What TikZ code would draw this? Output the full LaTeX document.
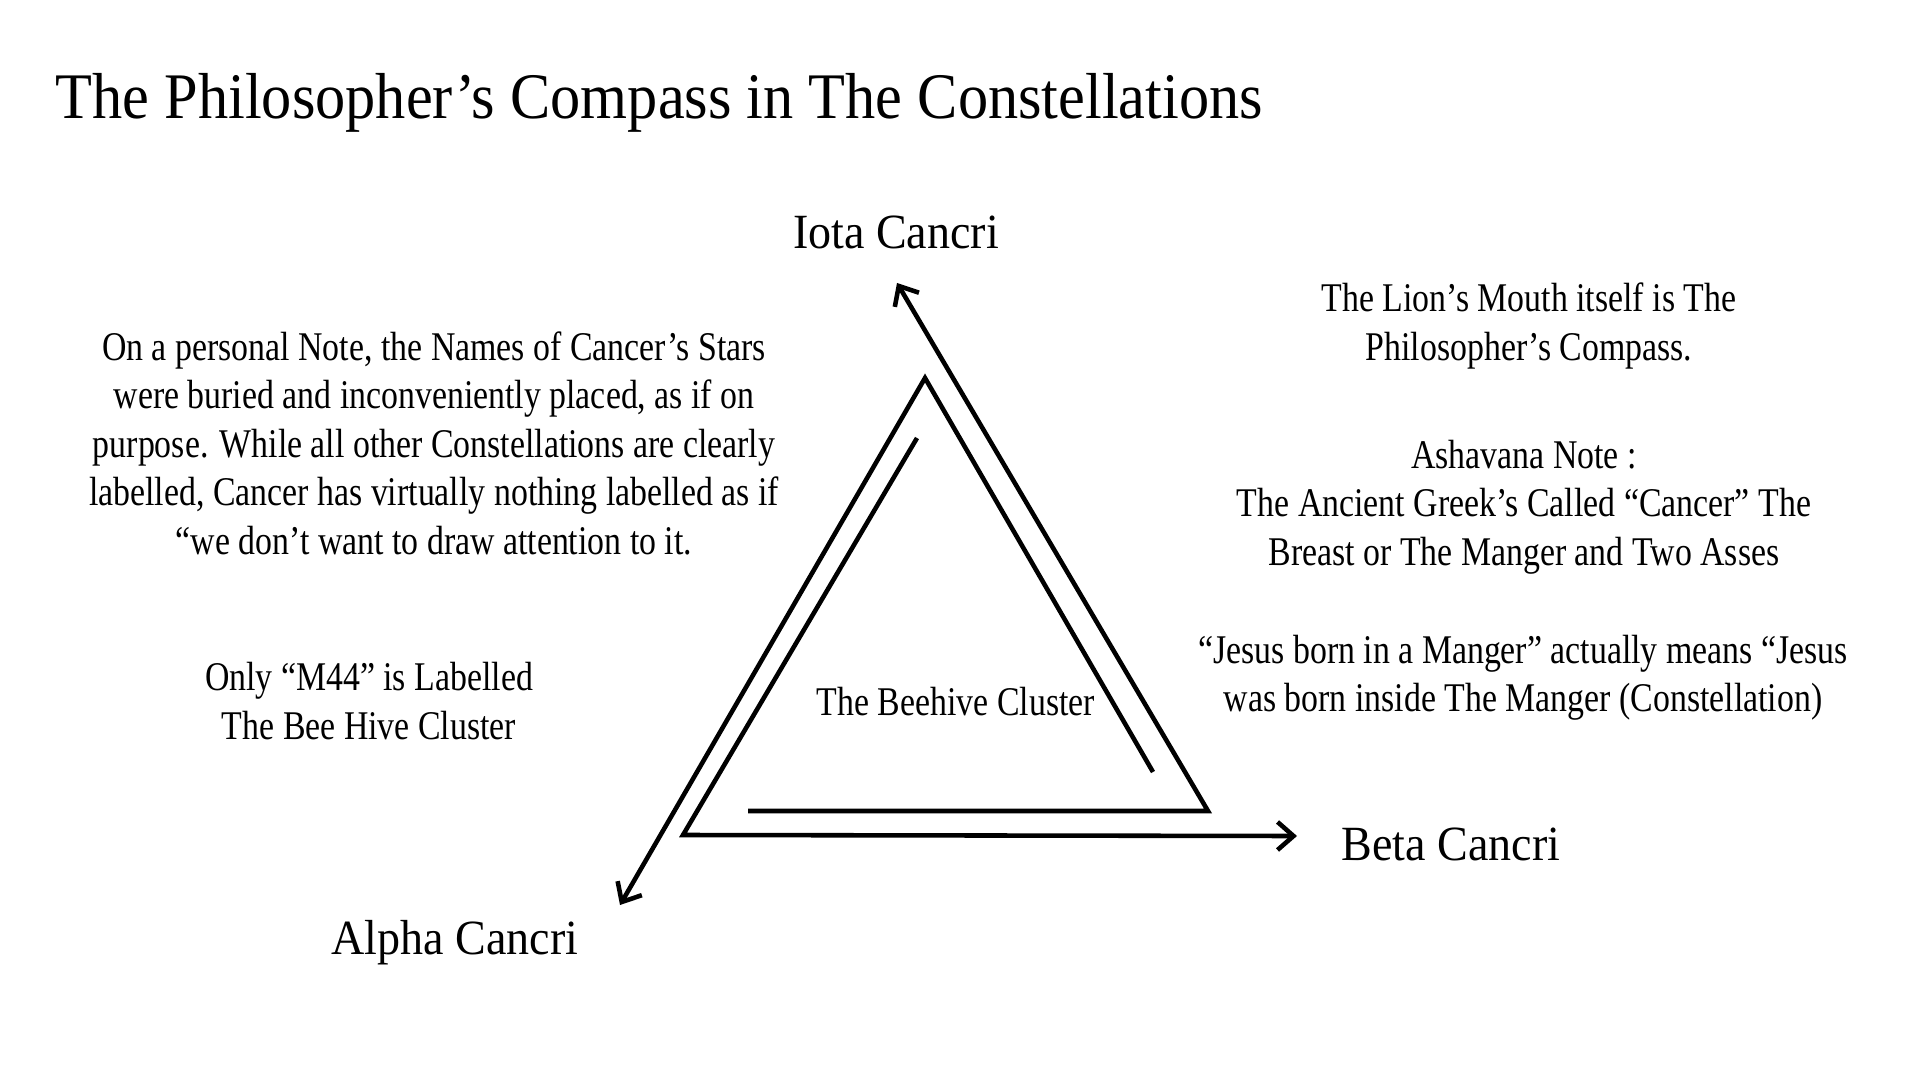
\documentclass[tikz,border=0pt]{standalone}
\usepackage{fontspec}
\setmainfont{Liberation Serif}[FakeStretch=0.935]
\newfontfamily\slim{Liberation Serif}[FakeStretch=0.83]
\newfontfamily\wide{Liberation Serif}[FakeStretch=0.928]
\usetikzlibrary{arrows.meta}
\begin{document}
\begin{tikzpicture}[x=1cm,y=1cm,
    >={Straight Barb[length=1.6mm,width=2.8mm]},
    txt/.style={align=center,inner sep=0pt,font=\slim\fontsize{11.6}{13.8}\selectfont},
    star/.style={anchor=base,inner sep=0pt,font=\fontsize{14}{16}\selectfont},
    arm/.style={line width=1.3pt}]
    \useasboundingbox (0,0) rectangle (19.2,-10.8);

    \node[anchor=base west,inner sep=0pt,font=\wide\fontsize{18.5}{22}\selectfont] (t) at (0.55,-1.19) {The Philosopher’s Compass in The Constellations};

    \node[star] (i) at (8.96,-2.49) {Iota Cancri};
    \node[star] (a) at (4.55,-9.54) {Alpha Cancri};
    \node[star] (b) at (14.51,-8.60) {Beta Cancri};

    \node[txt] (n) at (4.34,-4.43) {On a personal Note, the Names of Cancer’s Stars\\were buried and inconveniently placed, as if on\\purpose. While all other Constellations are clearly\\labelled, Cancer has virtually nothing labelled as if\\“we don’t want to draw attention to it.};
    \node[txt] (m) at (3.69,-7.01) {Only “M44” is Labelled\\The Bee Hive Cluster};

    \node[txt] (l) at (15.29,-3.26) {The Lion’s Mouth itself is The\\Philosopher’s Compass.};
    \node[txt] (g) at (15.24,-5.07) {Ashavana Note :\\The Ancient Greek’s Called “Cancer” The\\Breast or The Manger and Two Asses};
    \node[txt] (j) at (15.23,-6.78) {“Jesus born in a Manger” actually means “Jesus\\was born inside The Manger (Constellation)};

    \node[txt] (h) at (9.56,-7.02) {The Beehive Cluster};

    % the three arms of the compass
    \coordinate (top) at (9.25,-3.78);
    \coordinate (bl) at (6.83,-8.35);
    \coordinate (br) at (12.08,-8.11);
    \coordinate (l1) at (9.17,-4.38);
    \coordinate (b1) at (7.48,-8.11);
    \coordinate (r1) at (11.53,-7.72);
    \coordinate (ia) at (8.97,-2.83);
    \coordinate (aa) at (6.20,-9.05);
    \coordinate (ba) at (12.97,-8.36);

    \draw[arm,->] (l1) -- (bl) -- (ba);
    \draw[arm,->] (b1) -- (br) -- (ia);
    \draw[arm,->] (r1) -- (top) -- (aa);
\end{tikzpicture}
\end{document}
